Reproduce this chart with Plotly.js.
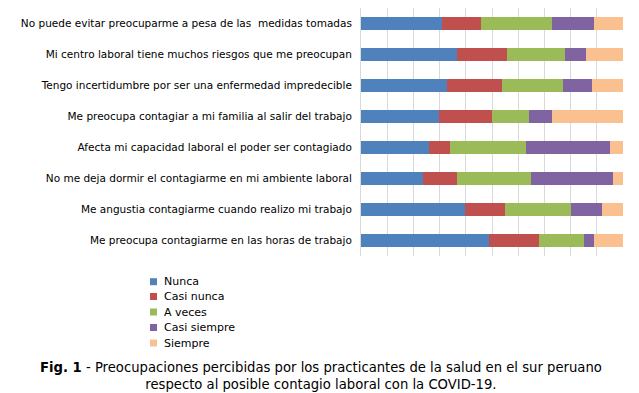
<!DOCTYPE html>
<html><head><meta charset="utf-8">
<script src="https://cdn.plot.ly/plotly-3.0.1.min.js"></script>
<style>html,body{margin:0;padding:0;background:#fff}#chart{width:639px;height:393px}</style>
</head><body><div id="chart"></div>
<script>
const categories = [
  "No puede evitar preocuparme a pesa de las \u00a0medidas tomadas",
  "Mi centro laboral tiene muchos riesgos que me preocupan",
  "Tengo incertidumbre por ser una enfermedad impredecible",
  "Me preocupa contagiar a mi familia al salir del trabajo",
  "Afecta mi capacidad laboral el poder ser contagiado",
  "No me deja dormir el contagiarme en mi ambiente laboral",
  "Me angustia contagiarme cuando realizo mi trabajo",
  "Me preocupa contagiarme en las horas de trabajo"
];
const seriesNames = ["Nunca", "Casi nunca", "A veces", "Casi siempre", "Siempre"];
const nunca       = [31.0, 36.5, 32.8, 29.6, 25.8, 23.5, 39.6, 48.8];
const casiNunca   = [14.7, 19.2, 21.0, 20.3,  8.1, 13.1, 15.2, 19.1];
const aVeces      = [27.1, 22.1, 23.3, 14.1, 29.0, 28.2, 25.2, 17.2];
const casiSiempre = [16.0,  8.0, 11.1,  8.8, 32.0, 31.3, 11.8,  3.8];
const siempre     = [11.2, 14.2, 11.9, 27.2,  5.1,  3.9,  8.1, 11.2];
const seriesValues = [nunca, casiNunca, aVeces, casiSiempre, siempre];
const colors = ["#4F81BD", "#C0504D", "#9BBB59", "#8064A2", "#FAC090"];
const captionBold = "Fig. 1";
const captionText = " - Preocupaciones percibidas por los practicantes de la salud en el sur peruano<br>respecto al posible contagio laboral con la COVID-19.";

const traces = seriesNames.map((n, i) => ({
  type: "bar", orientation: "h", name: n,
  y: categories, x: seriesValues[i],
  marker: {color: colors[i], line: {width: 0}},
  hoverinfo: "x+name"
}));

const FONT = "DejaVu Sans, Verdana, sans-serif";
const shapes = [];
const annotations = [];
// manual legend (paper coords); plot area px: x 361..623, y 8..256
const px = v => (v - 361) / 262;
const py = v => (256 - v) / 248;
const legY = [281.7, 296.5, 312, 327.5, 343];
seriesNames.forEach((n, i) => {
  shapes.push({type: "rect", xref: "paper", yref: "paper",
    x0: px(150), x1: px(157), y0: py(legY[i] + 3.5), y1: py(legY[i] - 3.5),
    fillcolor: colors[i], line: {width: 0}});
  annotations.push({xref: "paper", yref: "paper", x: px(162), y: py(legY[i]),
    xanchor: "left", yanchor: "middle", showarrow: false, text: n,
    font: {family: FONT, size: 11, color: "#000"}});
});
annotations.push({xref: "paper", yref: "paper", x: px(321), y: py(376),
  xanchor: "center", yanchor: "middle", showarrow: false, align: "center",
  text: "<b>" + captionBold + "</b>" + captionText,
  font: {family: FONT, size: 13.2, color: "#000"}});

const layout = {
  width: 639, height: 393,
  margin: {l: 361, r: 16, t: 8, b: 137, pad: 0},
  barmode: "stack", bargap: 0.61,
  showlegend: false,
  paper_bgcolor: "#fff", plot_bgcolor: "#fff",
  font: {family: FONT, size: 10, color: "#000"},
  xaxis: {range: [0, 100], dtick: 10, showticklabels: false, showgrid: true,
    gridcolor: "#D9D9D9", gridwidth: 1, zeroline: false, showline: false, ticks: ""},
  yaxis: {type: "category", autorange: "reversed", showgrid: false, zeroline: false,
    showline: true, linecolor: "#D9D9D9", ticks: "", ticklabelstandoff: 6,
    tickfont: {family: FONT, size: 10.5, color: "#000"}},
  shapes: shapes, annotations: annotations
};
Plotly.newPlot("chart", traces, layout, {staticPlot: true});
</script></body></html>
